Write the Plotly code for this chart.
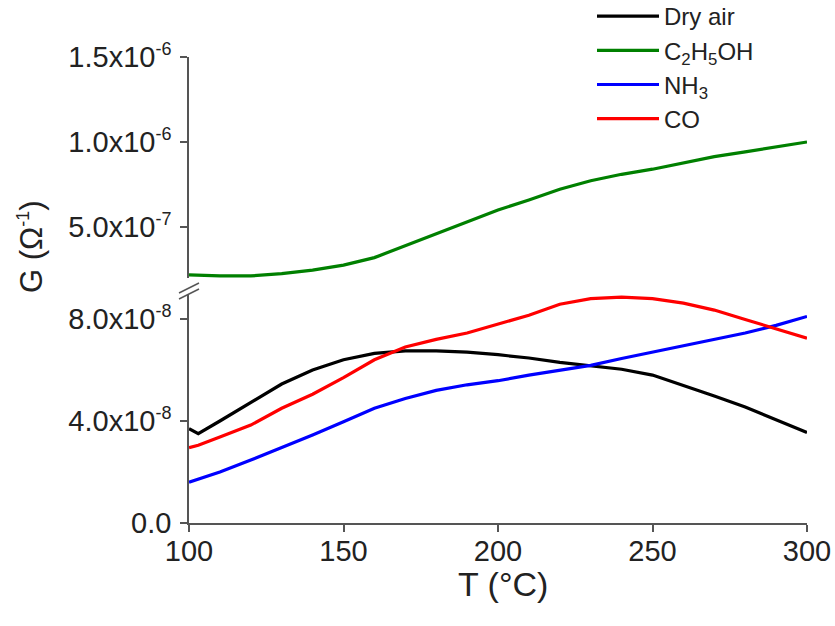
import plotly.graph_objects as go

# Temperature (°C)
T = [100, 103, 110, 120, 130, 140, 150, 160, 170, 180, 190, 200,
     210, 220, 230, 240, 250, 260, 270, 280, 290, 300]

# Conductance G (Ohm^-1)
dry_air = [3.7e-8, 3.5e-8, 4.0e-8, 4.74e-8, 5.45e-8, 6.0e-8, 6.4e-8, 6.65e-8, 6.75e-8, 6.75e-8, 6.7e-8, 6.6e-8,
           6.47e-8, 6.3e-8, 6.17e-8, 6.03e-8, 5.8e-8, 5.4e-8, 4.98e-8, 4.55e-8, 4.05e-8, 3.55e-8]
ethanol = [2.18e-7, 2.15e-7, 2.12e-7, 2.12e-7, 2.26e-7, 2.46e-7, 2.76e-7, 3.2e-7, 3.9e-7, 4.6e-7, 5.35e-7, 6.0e-7,
           6.59e-7, 7.22e-7, 7.72e-7, 8.1e-7, 8.4e-7, 8.78e-7, 9.14e-7, 9.42e-7, 9.72e-7, 1.0e-6]
nh3 = [1.6e-8, 1.72e-8, 2.0e-8, 2.47e-8, 2.95e-8, 3.45e-8, 3.97e-8, 4.5e-8, 4.88e-8, 5.2e-8, 5.42e-8, 5.58e-8,
       5.8e-8, 5.98e-8, 6.18e-8, 6.45e-8, 6.7e-8, 6.95e-8, 7.2e-8, 7.45e-8, 7.75e-8, 8.1e-8]
co = [2.95e-8, 3.05e-8, 3.37e-8, 3.84e-8, 4.5e-8, 5.05e-8, 5.7e-8, 6.4e-8, 6.9e-8, 7.2e-8, 7.45e-8, 7.8e-8,
      8.15e-8, 8.58e-8, 8.8e-8, 8.86e-8, 8.8e-8, 8.62e-8, 8.35e-8, 7.98e-8, 7.6e-8, 7.25e-8]

x_ticks = [100, 150, 200, 250, 300]
low_ticks = [0, 4e-8, 8e-8]
up_ticks = [5e-7, 1e-6, 1.5e-6]

def sci(m, e):
    return f"{m}x10<sup><span style='font-size:18px'>-{e}</span></sup>"

low_labels = ["0.0", sci("4.0", 8), sci("8.0", 8)]
up_labels = [sci("5.0", 7), sci("1.0", 6), sci("1.5", 6)]

FONT = "Liberation Sans, Arial, sans-serif"
W, H = 835, 626
L, R, TOP, B = 189, 28, 57, 103
PW, PH = W - L - R, H - TOP - B

def px(xp):
    return (xp - L) / PW

def py(yp):
    return (H - B - yp) / PH

lw = 3.2
fig = go.Figure()
fig.add_trace(go.Scatter(x=T, y=dry_air, mode="lines", name="Dry air",
                         line=dict(color="#000000", width=lw), yaxis="y"))
fig.add_trace(go.Scatter(x=T, y=ethanol, mode="lines", name="C<sub>2</sub>H<sub>5</sub>OH",
                         line=dict(color="#008000", width=lw), yaxis="y2"))
fig.add_trace(go.Scatter(x=T, y=nh3, mode="lines", name="NH<sub>3</sub>",
                         line=dict(color="#0000FF", width=lw), yaxis="y"))
fig.add_trace(go.Scatter(x=T, y=co, mode="lines", name="CO",
                         line=dict(color="#FF0000", width=lw), yaxis="y"))

axis_common = dict(showline=True, linecolor="#555555", linewidth=1.5, ticks="outside",
                   ticklen=7, tickwidth=1.5, tickcolor="#555555", showgrid=False, zeroline=False,
                   tickfont=dict(family=FONT, size=29, color="#222222"))

fig.update_layout(
    width=W, height=H,
    margin=dict(l=L, r=R, t=TOP, b=B, autoexpand=False),
    plot_bgcolor="white", paper_bgcolor="white",
    font=dict(family=FONT, color="#222222"),
    xaxis=dict(range=[100, 300], tickvals=x_ticks, anchor="y", ticklabelstandoff=-6, **axis_common),
    yaxis=dict(domain=[0, py(293.5)], range=[0, 9e-8], tickvals=low_ticks, ticktext=low_labels,
               anchor="x", ticklabelstandoff=3, **axis_common),
    yaxis2=dict(domain=[py(278), 1], range=[2e-7, 1.5e-6], tickvals=up_ticks, ticktext=up_labels,
                anchor="x", ticklabelstandoff=3, **axis_common),
    showlegend=True,
    legend=dict(x=px(592), y=1 + (TOP + 6) / PH, xanchor="left", yanchor="top",
                font=dict(family=FONT, size=24, color="#222222"), bgcolor="rgba(0,0,0,0)",
                tracegroupgap=0, itemwidth=62),
    annotations=[
        dict(text="G (Ω<sup><span style='font-size:18px'>-1</span></sup>)", textangle=-90,
             xref="paper", yref="paper", x=px(31), y=py(247), xanchor="center", yanchor="middle",
             showarrow=False, font=dict(family=FONT, size=31, color="#222222")),
        dict(text="T (°C)", xref="paper", yref="paper", x=px(503), y=py(584),
             xanchor="center", yanchor="middle", showarrow=False,
             font=dict(family=FONT, size=34, color="#222222")),
    ],
    shapes=[
        dict(type="line", xref="paper", yref="paper", x0=px(179), y0=py(293), x1=px(199), y1=py(283),
             line=dict(color="#555555", width=1.5)),
        dict(type="line", xref="paper", yref="paper", x0=px(179), y0=py(299), x1=px(199), y1=py(289),
             line=dict(color="#555555", width=1.5)),
    ],
)

fig.write_html("out.html")
